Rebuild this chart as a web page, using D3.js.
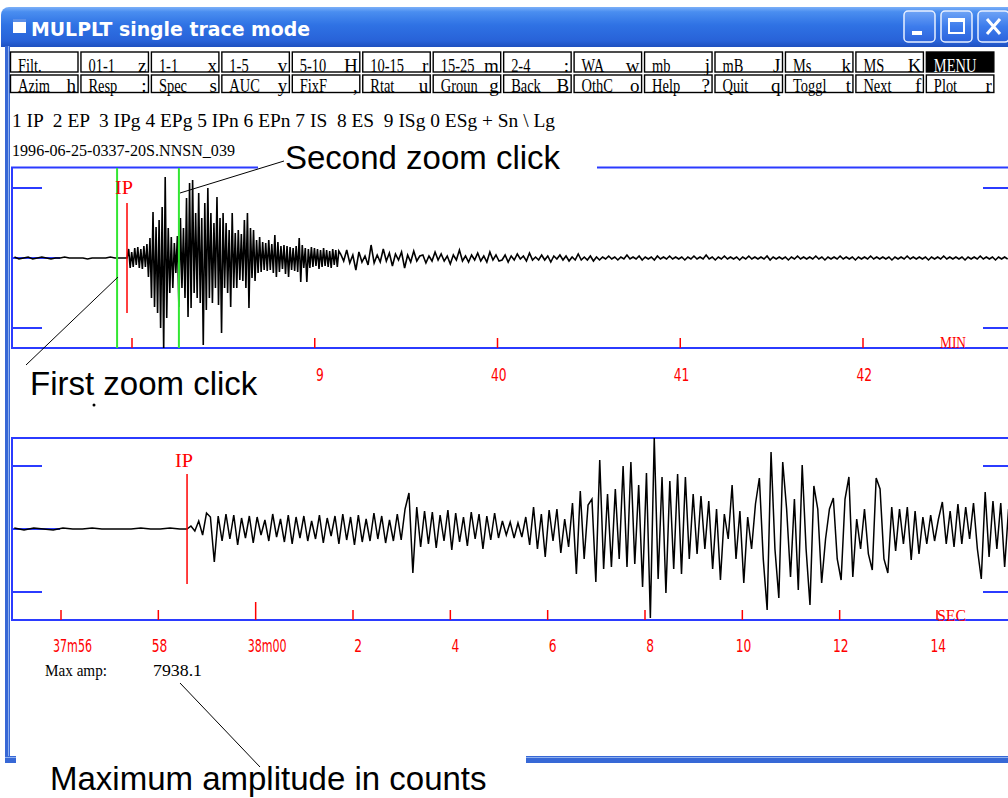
<!DOCTYPE html>
<html>
<head>
<meta charset="utf-8">
<script src="https://cdn.jsdelivr.net/npm/d3@7"></script>
<style>
  body { margin: 0; background: #fff; }
  svg { display: block; }
</style>
</head>
<body>
<div id="chart"></div>
<script>
// ---- menu buttons [label, key] ----
const row1Buttons = [["Filt.", ""], ["01-1", "z"], ["1-1", "x"], ["1-5", "v"], ["5-10", "H"], ["10-15", "r"], ["15-25", "m"],
  ["2-4", ":"], ["WA", "w"], ["mb", "j"], ["mB", "J"], ["Ms", "k"], ["MS", "K"], ["MENU", ""]];
const row2Buttons = [["Azim", "h"], ["Resp", ":"], ["Spec", "s"], ["AUC", "y"], ["FixF", ","], ["Rtat", "u"], ["Groun", "g"],
  ["Back", "B"], ["OthC", "o"], ["Help", "?"], ["Quit", "q"], ["Toggl", "t"], ["Next", "f"], ["Plot", "r"]];
const phaseLine = "1 IP  2 EP  3 IPg 4 EPg 5 IPn 6 EPn 7 IS  8 ES  9 ISg 0 ESg + Sn \\ Lg";
const fileName = "1996-06-25-0337-20S.NNSN_039";

// ---- top trace (whole record), time in s after 38:00, relative amplitude ----
const topPreStart = -38.6, topPreDt = 1.5;
const topPre = [1, -1, 0, 1, -1, 0, 1, 0, -1, 0, 0, 1, 0, 0, 0, 0, -1, 0, 0, 0, 0, 1, 0, 0, 0];
const topBurstStart = -1.6, topBurstDt = 0.5;
const topBurst = [0, 9, -10, 6, -9, 10, -7, 11, -10, 9, -11, 12, -9, 14, -19, 20, -40, 46, -49, 31,
  -55, 38, -70, 51, -92, 81, -60, 30, -35, 21, -30, 15, -15, 22, -49, 40, -30, 30, -40, 60,
  -59, 75, -50, 78, -35, 45, -40, 65, -45, 40, -87, 55, -52, 70, -40, 45, -45, 35, -30, 61,
  -47, 40, -75, 45, -30, 35, -35, 28, -49, 45, -30, 25, -30, 28, -22, 24, -23, 38, -30, 45,
  -50, 30, -20, 28, -23, 18, -15, 21, -14, 16, -12, 15, -13, 18, -12, 14, -15, 23, -19, 16,
  -14, 12, -11, 13, -16, 12, -19, 11, -12, 10, -13, 12, -14, 20, -24, 13, -10, 10, -24, 9,
  -10, 11, -9, 10, -8, 9, -11, 8, -9, 10, -8, 8, -9, 7, -10, 9, -7, 8, -9, 7];
const topCodaStart = 68.5, topCodaDt = 1.0;
const topCoda = [4, -3, 8, -5, 3, -12, 6, -4, 2, -7, 13, -5, 3, -4, 9, -3, 5, -8, 4, -2, 6, -10, 3, -4, 7, -3, 2,
  3, -5, 2, -3, 6, -2, 4, -3, 2, -6, 3, -2, 8, -3, 2, -4, 3, -2, 5, -3, 2, -4, 6, -2, 3, -3,
  -2, 3, -4, 2, -2, 4, -1, 2, -3, 5, -2, 1, -2, 3, -2, 2, -4, 2, -1, 3, -2, 2, -3, 1, -2, 4, -2, 1, -2, 2, -3, 1, -2,
  1, -1, 2, -1, 1, -2, 1, -1, 3, -1, 1, -1, 2, -2, 1, -1, 1, -2, 2, -1,
  1, -1, 2, -1, 1, -1, 1, -2, 1, -1, 2, -1, 1, -1, 3, -1, 1, -2, 1, -1,
  2, -1, 1, -1, 1, -2, 1, -1, 2, -1, 1, -1, 1, -1, 2, -2, 1, -1, 1, -1,
  1, -2, 1, -1, 2, -1, 1, -1, 1, -1, 2, -1, 1, -2, 1, -1, 1, -1, 2, -1,
  1, -1, 1, -2, 1, -1, 1, -1, 2, -1, 1, -1, 1, -1, 1, -2, 1, -1, 1, -1,
  2, -1, 1, -1, 1, -1, 1, -2, 1, -1, 1, -1, 2, -1, 1, -1, 1, -1, 1, -2,
  1, -1, 1, -1, 2, -1, 1, -1, 1, -2, 1, -1, 1, -1];

// ---- bottom trace (zoom window) ----
const botPreStart = -4.96, botPreDt = 0.2;
const botPre = [1, -1, 1, 0, -1, 1, 0, 0, 1, 0, 0, 0, 0, 1, 0, 0, 1, 0];
const botBurstStart = -1.41, botBurstDt = 0.08;
const botBurst = [0, 3, -2, 8, -6, 16, 12, -33, 13, -12, 15, -10, 14, -16, 11, -9, 13, -14, 12, -6,
  9, -12, 15, -8, 10, -13, 14, -15, 12, -9, 13, -12, 8, -10, 14, -14, 11, -7, 13, -15,
  15, -11, 12, -16, 14, -13, 10, -12, 16, -10, 13, -14, 9, -12, 15, -11, 20, 36, -44, 22,
  -18, 18, -15, 17, -19, 14, -12, 19, -21, 16, -13, 12, -17, 17, -10, 15, -20, 13, -11, 16,
  -9, 8, -6, 7, -9, 6, -8, 12, -16, 22, -20, 15, -28, 19, -12, 20, -24, 10, -18, 26,
  -45, 38, -30, 24, 30, -53, 69, -40, 35, -38, 40, -30, 63, -38, 67, -35, 44, -58, 56, -89,
  91, -50, 52, -64, 48, -40, 55, -45, 52, -30, 35, -25, 33, -20, 28, -40, 20, -51, 15, -10,
  44, -30, 18, -54, 12, -20, 25, 51, -30, -81, 77, -20, -69, 67, 20, -48, 30, -61, 64, -20,
  -76, 43, 20, -54, -10, 20, 31, -30, -51, 30, 52, -48, 10, -20, 20, -25, -41, 51, 40, -30,
  -44, 22, -22, 20, -15, 22, -31, 18, -25, 12, -15, 14, -12, 10, 27, -15, 18, -18, 25, -15,
  22, -10, 26, -20, -50, 37, -28, 28, -20, 26, -38, 20];
const maxAmp = "7938.1";

// ---- axes ----
const topTickSec = [0, 60, 120, 180, 240];
const topTickLabels = ["", "9", "40", "41", "42"];   // first label and the "3" of 39 are under the pasted note
const botTickSec = [-4, -2, 0, 2, 4, 6, 8, 10, 12, 14];
const botTickLabels = ["37m56", "58", "38m00", "2", "4", "6", "8", "10", "12", "14"];
const topAmpTicks = [-70, 70];
const botAmpTicks = [-63, 63];
const topPick = { phase: "IP", t: -1.64, half: 55 };
const botPick = { phase: "IP", t: -1.41, half: 55 };
const zoomWindow = [-4.9, 15.4];

const W = 1008, H = 798;
const BLUE = "#2b3bff", RED = "#ff0000", GREEN = "#33e633";
const serif = '"Liberation Serif", "DejaVu Serif", serif';
const sans = '"Liberation Sans", Arial, sans-serif';
const cond = '"DejaVu Sans Condensed", "DejaVu Sans", sans-serif';

const svg = d3.select('#chart').append('svg')
  .attr('width', W).attr('height', H)
  .style('font-family', serif);

// squeeze a text horizontally to mimic the narrow plot font
function squeeze(sel, ratio) {
  sel.each(function () {
    const n = this.getComputedTextLength();
    if (n > 0) d3.select(this).attr('textLength', n * ratio).attr('lengthAdjust', 'spacingAndGlyphs');
  });
}

const defs = svg.append('defs');
const tg = defs.append('linearGradient').attr('id', 'titleGrad')
  .attr('gradientUnits', 'userSpaceOnUse').attr('x1', 0).attr('y1', 7).attr('x2', 0).attr('y2', 47);
[[0, '#7cb0f8'], [0.12, '#4a8ef0'], [0.45, '#2f72e4'], [0.85, '#2862d8'], [1, '#1f50c0']]
  .forEach(s => tg.append('stop').attr('offset', s[0]).attr('stop-color', s[1]));
const bgr = defs.append('linearGradient').attr('id', 'btnGrad').attr('x1', 0).attr('y1', 0).attr('x2', 0).attr('y2', 1);
[[0, '#6fa4f6'], [0.5, '#3d7cec'], [1, '#2c63dc']]
  .forEach(s => bgr.append('stop').attr('offset', s[0]).attr('stop-color', s[1]));
defs.append('clipPath').attr('id', 'clipTop').append('rect')
  .attr('x', 12).attr('y', 168).attr('width', 1000).attr('height', 180);
defs.append('clipPath').attr('id', 'clipBot').append('rect')
  .attr('x', 12).attr('y', 438).attr('width', 1000).attr('height', 182);

/* window chrome */
svg.append('rect').attr('x', 1).attr('y', 7).attr('width', 1030).attr('height', 40).attr('rx', 8)
  .attr('fill', 'url(#titleGrad)');
svg.append('rect').attr('x', 1).attr('y', 30).attr('width', 1030).attr('height', 17)
  .attr('fill', 'url(#titleGrad)');
svg.append('rect').attr('x', 13).attr('y', 19).attr('width', 13).attr('height', 14).attr('fill', '#fff');
svg.append('rect').attr('x', 13).attr('y', 19).attr('width', 13).attr('height', 3).attr('fill', '#5b8fe8');
svg.append('text').attr('x', 31).attr('y', 36)
  .attr('font-family', cond).attr('font-weight', 'bold').attr('font-size', 20)
  .attr('fill', '#fff').attr('textLength', 279).attr('lengthAdjust', 'spacingAndGlyphs')
  .text('MULPLT single trace mode');

const winBtn = svg.append('g');
[904, 941, 978].forEach((x, i) => {
  const g = winBtn.append('g').attr('transform', `translate(${x},11)`);
  g.append('rect').attr('width', 31).attr('height', 31).attr('rx', 4)
    .attr('fill', 'url(#btnGrad)').attr('stroke', '#e8f0ff').attr('stroke-width', 1.5);
  if (i === 0) {
    g.append('rect').attr('x', 8).attr('y', 20).attr('width', 10).attr('height', 4).attr('fill', '#fff');
  } else if (i === 1) {
    g.append('rect').attr('x', 8).attr('y', 8).attr('width', 15).attr('height', 14)
      .attr('fill', 'none').attr('stroke', '#fff').attr('stroke-width', 2);
    g.append('rect').attr('x', 8).attr('y', 8).attr('width', 15).attr('height', 3).attr('fill', '#fff');
  } else {
    g.append('path').attr('d', 'M9,8L22,23M22,8L9,23').attr('stroke', '#fff').attr('stroke-width', 3);
  }
});

// left and bottom window frame
svg.append('rect').attr('x', 5).attr('y', 46).attr('width', 5).attr('height', 717).attr('fill', '#3768d6');
svg.append('line').attr('x1', 8.5).attr('x2', 8.5).attr('y1', 46).attr('y2', 757)
  .attr('stroke', '#8fb0ee').attr('stroke-width', 1);
[[5, 11], [526, 500]].forEach(d => {
  svg.append('rect').attr('x', d[0]).attr('y', 756).attr('width', d[1]).attr('height', 7).attr('fill', '#3768d6');
  svg.append('line').attr('x1', d[0]).attr('x2', d[0] + d[1]).attr('y1', 757.5).attr('y2', 757.5)
    .attr('stroke', '#8fb0ee').attr('stroke-width', 1);
});

/* menu buttons */
const btnX = i => 10 + i * 70.45;
function drawRow(buttons, y, h) {
  const g = svg.append('g').selectAll('g').data(buttons).enter().append('g')
    .attr('transform', (d, i) => `translate(${btnX(i)},${y})`);
  g.append('rect').attr('x', 0.5).attr('y', 0.5).attr('width', 67.5).attr('height', h)
    .attr('fill', d => d[0] === 'MENU' ? '#000' : '#fff')
    .attr('stroke', '#000').attr('stroke-width', 1.4);
  g.append('text').attr('x', 8).attr('y', h)
    .attr('font-size', 19).attr('fill', d => d[0] === 'MENU' ? '#fff' : '#000')
    .text(d => d[0])
    .call(squeeze, 0.76);
  g.append('text').attr('x', 66).attr('y', h).attr('text-anchor', 'end')
    .attr('font-size', 19).attr('fill', '#000')
    .text(d => d[1]);
}
drawRow(row1Buttons, 51.5, 20);
drawRow(row2Buttons, 74.5, 17.5);

svg.append('text').attr('x', 12).attr('y', 127).attr('font-size', 19)
  .style('white-space', 'pre')
  .attr('textLength', 543).attr('lengthAdjust', 'spacingAndGlyphs').text(phaseLine);
svg.append('text').attr('x', 12).attr('y', 156).attr('font-size', 17)
  .attr('textLength', 223).attr('lengthAdjust', 'spacingAndGlyphs').text(fileName);

/* helpers to build sampled series */
function series(start, dt, values) {
  return values.map((v, i) => ({ t: start + i * dt, a: v }));
}

/* ---------- top panel ---------- */
const topX = d3.scaleLinear().domain([0, 240]).range([132, 863]);
const topY = d3.scaleLinear().domain([-90, 90]).range([348, 168]);
const topData = series(topPreStart, topPreDt, topPre)
  .concat(series(topBurstStart, topBurstDt, topBurst))
  .concat(series(topCodaStart, topCodaDt, topCoda));

const topG = svg.append('g');
topG.append('rect').attr('x', 12).attr('y', 167.5).attr('width', 1010).attr('height', 180.5)
  .attr('fill', 'none').attr('stroke', BLUE).attr('stroke-width', 2);
topAmpTicks.forEach(a => {
  const y = topY(a);
  topG.append('line').attr('x1', 12).attr('x2', 42).attr('y1', y).attr('y2', y)
    .attr('stroke', BLUE).attr('stroke-width', 2);
  topG.append('line').attr('x1', 983).attr('x2', 1008).attr('y1', y).attr('y2', y)
    .attr('stroke', BLUE).attr('stroke-width', 2);
});
topG.append('line').attr('x1', 12).attr('x2', 60).attr('y1', topY(0)).attr('y2', topY(0))
  .attr('stroke', BLUE).attr('stroke-width', 2);

topG.selectAll('.tTick').data(topTickSec).enter().append('line')
  .attr('x1', d => topX(d)).attr('x2', d => topX(d)).attr('y1', 338).attr('y2', 348)
  .attr('stroke', RED).attr('stroke-width', 1.5);
topG.selectAll('.tLab').data(topTickSec.filter((d, i) => topTickLabels[i])).enter().append('text')
  .attr('x', d => topX(d) + 9).attr('y', 381).attr('text-anchor', 'end')
  .attr('font-family', cond).attr('font-size', 17).attr('fill', RED)
  .text(d => topTickLabels[topTickSec.indexOf(d)])
  .attr('textLength', d => topTickLabels[topTickSec.indexOf(d)].length * 7.8)
  .attr('lengthAdjust', 'spacingAndGlyphs');
topG.append('text').attr('x', 940).attr('y', 348).attr('font-size', 17).attr('fill', RED)
  .attr('textLength', 26).attr('lengthAdjust', 'spacingAndGlyphs').text('MIN');

const topLine = d3.line().x(d => topX(d.t)).y(d => topY(d.a));
topG.append('path').datum(topData).attr('d', topLine)
  .attr('clip-path', 'url(#clipTop)')
  .attr('fill', 'none').attr('stroke', '#000').attr('stroke-width', 1.6);

zoomWindow.forEach(t => {
  topG.append('line').attr('x1', topX(t)).attr('x2', topX(t)).attr('y1', 168).attr('y2', 348)
    .attr('stroke', GREEN).attr('stroke-width', 2);
});
topG.append('line').attr('x1', topX(topPick.t)).attr('x2', topX(topPick.t))
  .attr('y1', topY(topPick.half)).attr('y2', topY(-topPick.half))
  .attr('stroke', RED).attr('stroke-width', 1.5);
topG.append('text').attr('x', topX(topPick.t) - 12).attr('y', 194).attr('font-size', 18).attr('fill', RED)
  .attr('textLength', 18).attr('lengthAdjust', 'spacingAndGlyphs').text(topPick.phase);

/* ---------- bottom panel ---------- */
const botX = d3.scaleLinear().domain([-4, 14]).range([61, 937]);
const botY = d3.scaleLinear().domain([-91, 91]).range([620, 438]);
const botData = series(botPreStart, botPreDt, botPre)
  .concat(series(botBurstStart, botBurstDt, botBurst));

const botG = svg.append('g');
botG.append('rect').attr('x', 12).attr('y', 438).attr('width', 1010).attr('height', 182)
  .attr('fill', 'none').attr('stroke', BLUE).attr('stroke-width', 2);
botAmpTicks.forEach(a => {
  const y = botY(a);
  botG.append('line').attr('x1', 12).attr('x2', 42).attr('y1', y).attr('y2', y)
    .attr('stroke', BLUE).attr('stroke-width', 2);
  botG.append('line').attr('x1', 983).attr('x2', 1008).attr('y1', y).attr('y2', y)
    .attr('stroke', BLUE).attr('stroke-width', 2);
});
botG.append('line').attr('x1', 12).attr('x2', 60).attr('y1', botY(0)).attr('y2', botY(0))
  .attr('stroke', BLUE).attr('stroke-width', 2);

botG.selectAll('.tTick').data(botTickSec).enter().append('line')
  .attr('x1', d => botX(d)).attr('x2', d => botX(d))
  .attr('y1', d => d === 0 ? 602 : 610).attr('y2', 620)
  .attr('stroke', RED).attr('stroke-width', 1.5);
botG.selectAll('.tLab').data(botTickSec).enter().append('text')
  .attr('x', (d, i) => botX(d) + (botTickLabels[i].length > 2 ? 31 : 9)).attr('y', 652)
  .attr('text-anchor', 'end')
  .attr('font-family', cond).attr('font-size', 17).attr('fill', RED)
  .attr('textLength', (d, i) => botTickLabels[i].length * 7.8).attr('lengthAdjust', 'spacingAndGlyphs')
  .text((d, i) => botTickLabels[i]);
botG.append('text').attr('x', 937).attr('y', 621).attr('font-size', 17).attr('fill', RED)
  .attr('textLength', 29).attr('lengthAdjust', 'spacingAndGlyphs').text('SEC');

const botLine = d3.line().x(d => botX(d.t)).y(d => botY(d.a));
botG.append('path').datum(botData).attr('d', botLine)
  .attr('clip-path', 'url(#clipBot)')
  .attr('fill', 'none').attr('stroke', '#000').attr('stroke-width', 1.5);

botG.append('line').attr('x1', botX(botPick.t)).attr('x2', botX(botPick.t))
  .attr('y1', botY(botPick.half)).attr('y2', botY(-botPick.half))
  .attr('stroke', RED).attr('stroke-width', 1.5);
botG.append('text').attr('x', botX(botPick.t) - 12).attr('y', 467).attr('font-size', 18).attr('fill', RED)
  .attr('textLength', 18).attr('lengthAdjust', 'spacingAndGlyphs').text(botPick.phase);

svg.append('text').attr('x', 45).attr('y', 676).attr('font-size', 17)
  .attr('textLength', 62).attr('lengthAdjust', 'spacingAndGlyphs').text('Max amp:');
svg.append('text').attr('x', 153).attr('y', 676).attr('font-size', 17)
  .attr('textLength', 49).attr('lengthAdjust', 'spacingAndGlyphs').text(maxAmp);

/* ---------- annotations pasted on top ---------- */
const notes = svg.append('g').attr('font-family', sans).attr('font-size', 33).attr('fill', '#000');
notes.append('rect').attr('x', 258).attr('y', 136).attr('width', 339).attr('height', 34).attr('fill', '#fff');
notes.append('line').attr('x1', 180).attr('y1', 193).attr('x2', 284).attr('y2', 161)
  .attr('stroke', '#000').attr('stroke-width', 1);
notes.append('text').attr('x', 285).attr('y', 169).text('Second zoom click');

notes.append('rect').attr('x', 14).attr('y', 356).attr('width', 290).attr('height', 56).attr('fill', '#fff');
notes.append('line').attr('x1', 118).attr('y1', 277).attr('x2', 26).attr('y2', 365)
  .attr('stroke', '#000').attr('stroke-width', 1);
notes.append('text').attr('x', 30).attr('y', 395).text('First zoom click');
notes.append('circle').attr('cx', 94).attr('cy', 405).attr('r', 1.5).attr('fill', '#000');

notes.append('rect').attr('x', 16).attr('y', 740).attr('width', 510).attr('height', 58).attr('fill', '#fff');
notes.append('line').attr('x1', 180).attr('y1', 683).attr('x2', 260).attr('y2', 767)
  .attr('stroke', '#000').attr('stroke-width', 1);
notes.append('text').attr('x', 50).attr('y', 790).text('Maximum amplitude in counts');
</script>
</body>
</html>
